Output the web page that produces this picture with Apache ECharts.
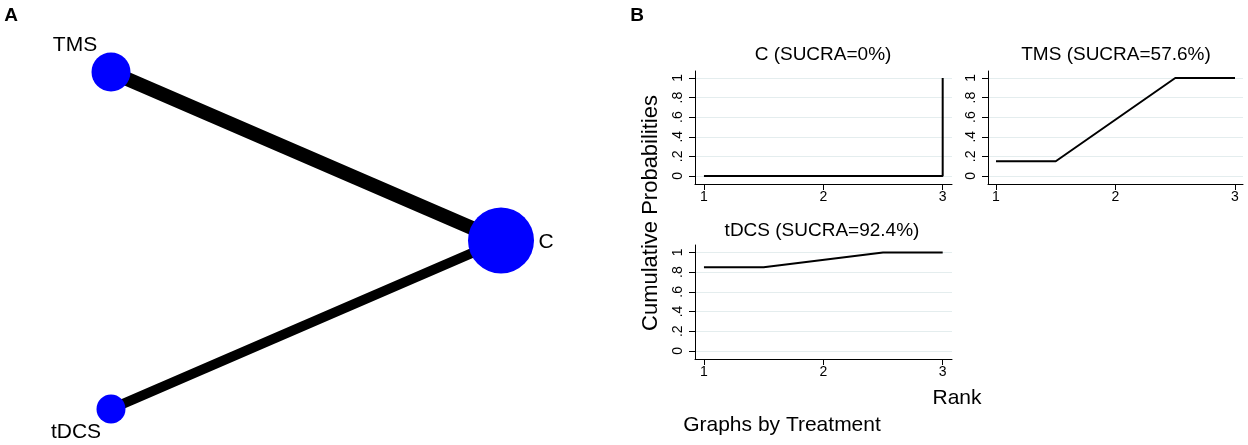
<!DOCTYPE html>
<html>
<head>
<meta charset="utf-8">
<script src="https://cdn.jsdelivr.net/npm/echarts@6/dist/echarts.min.js"></script>
<style>
html,body{margin:0;padding:0;background:#fff;}
#chart{width:1248px;height:445px;}
</style>
</head>
<body>
<div id="chart"></div>
<script>
// ---------- DATA ----------
// Panel A: network of treatments (circular layout coordinates)
const nodeNames = ['C', 'TMS', 'tDCS'];
const nodeX = [1, -0.5, -0.5];
const nodeY = [0, 0.866, -0.866];
const edgeSource = ['TMS', 'tDCS'];
const edgeTarget = ['C', 'C'];

// Panel B: cumulative ranking probabilities
const rankTicks = [1, 2, 3];
const probTicks = [0, 0.2, 0.4, 0.6, 0.8, 1];
const panelTitles = ['C (SUCRA=0%)', 'TMS (SUCRA=57.6%)', 'tDCS (SUCRA=92.4%)'];
const cRank = [1, 3, 3];
const cProb = [0, 0, 1];
const tmsRank = [1, 1.5, 2.5, 3];
const tmsProb = [0.15, 0.15, 1, 1];
const tdcsRank = [1, 1.5, 2.5, 3];
const tdcsProb = [0.85, 0.85, 1, 1];

// ---------- STYLE ----------
const FONT = '"Liberation Sans", Arial, sans-serif';
const nodeStyle = {
  C:    {size: 66, offset: [45, 2]},
  TMS:  {size: 39, offset: [-36, -27]},
  tDCS: {size: 29, offset: [-35, 23]}
};
const edgeWidth = {TMS: 14, tDCS: 10};

const chart = echarts.init(document.getElementById('chart'), null, {renderer: 'canvas'});

function zip(a, b) { return a.map((v, i) => [v, b[i]]); }
function probFmt(v) {
  if (Math.abs(v) < 1e-9) return '0';
  if (Math.abs(v - 1) < 1e-9) return '1';
  return ('' + Math.round(v * 10) / 10).replace(/^0/, '');
}

const gridLineColor = '#e4edee';

function xAx(gridIndex, min, max) {
  return {
    type: 'value', gridIndex, min, max,
    axisLine: {show: true, onZero: false, lineStyle: {color: '#000', width: 1}},
    axisTick: {show: true, length: 6, customValues: rankTicks, lineStyle: {color: '#000'}},
    axisLabel: {show: true, customValues: rankTicks, margin: 6, fontSize: 14, color: '#000', fontFamily: FONT},
    splitLine: {show: false}
  };
}
function yAx(gridIndex, min, max) {
  return {
    type: 'value', gridIndex, min, max,
    axisLine: {show: true, onZero: false, lineStyle: {color: '#000', width: 1}},
    axisTick: {show: true, length: 6, customValues: probTicks, lineStyle: {color: '#000'}},
    axisLabel: {show: true, customValues: probTicks, rotate: 90, margin: 10, fontSize: 14, color: '#000', fontFamily: FONT, formatter: probFmt},
    splitLine: {show: true, lineStyle: {color: gridLineColor, width: 1}}
  };
}
function lineSeries(idx, xs, ys) {
  return {
    type: 'line', xAxisIndex: idx, yAxisIndex: idx,
    data: zip(xs, ys), showSymbol: false, symbol: 'none', animation: false,
    lineStyle: {color: '#000', width: 2}, z: 5
  };
}

const option = {
  animation: false,
  backgroundColor: '#fff',
  grid: [
    {left: 111, top: 72, width: 390, height: 337},
    {left: 695, top: 71, width: 257, height: 113},
    {left: 988, top: 71, width: 255, height: 113},
    {left: 695, top: 245, width: 257, height: 114}
  ],
  xAxis: [
    {type: 'value', gridIndex: 0, min: -0.5, max: 1, show: false},
    xAx(1, 0.925, 3.078),
    xAx(2, 0.933, 3.067),
    xAx(3, 0.925, 3.078)
  ],
  yAxis: [
    {type: 'value', gridIndex: 0, min: -0.866, max: 0.866, show: false},
    yAx(1, -0.082, 1.071),
    yAx(2, -0.082, 1.071),
    yAx(3, -0.082, 1.075)
  ],
  series: [
    {
      type: 'graph', coordinateSystem: 'cartesian2d', xAxisIndex: 0, yAxisIndex: 0,
      layout: 'none', roam: false, animation: false,
      data: nodeNames.map((n, i) => ({
        name: n, value: [nodeX[i], nodeY[i]],
        symbol: 'circle', symbolSize: nodeStyle[n].size,
        itemStyle: {color: '#0000ff'},
        label: {show: true, position: 'inside', offset: nodeStyle[n].offset, formatter: n,
                fontSize: 21, color: '#000', fontFamily: FONT}
      })),
      links: edgeSource.map((s, i) => ({
        source: s, target: edgeTarget[i],
        lineStyle: {width: edgeWidth[s], color: '#000', opacity: 1, curveness: 0}
      })),
      lineStyle: {color: '#000', opacity: 1},
      emphasis: {disabled: true}
    },
    lineSeries(1, cRank, cProb),
    lineSeries(2, tmsRank, tmsProb),
    lineSeries(3, tdcsRank, tdcsProb)
  ],
  graphic: [
    {type: 'text', x: 11, y: 16, style: {text: 'A', font: 'bold 19px ' + FONT, fill: '#000', textAlign: 'center', textVerticalAlign: 'middle'}},
    {type: 'text', x: 637, y: 16, style: {text: 'B', font: 'bold 19px ' + FONT, fill: '#000', textAlign: 'center', textVerticalAlign: 'middle'}},
    {type: 'text', x: 823, y: 55, style: {text: panelTitles[0], font: '19px ' + FONT, fill: '#000', textAlign: 'center', textVerticalAlign: 'middle'}},
    {type: 'text', x: 1116, y: 55, style: {text: panelTitles[1], font: '19px ' + FONT, fill: '#000', textAlign: 'center', textVerticalAlign: 'middle'}},
    {type: 'text', x: 822, y: 231, style: {text: panelTitles[2], font: '19px ' + FONT, fill: '#000', textAlign: 'center', textVerticalAlign: 'middle'}},
    {type: 'text', x: 651, y: 213, rotation: Math.PI / 2, style: {text: 'Cumulative Probabilities', font: '22px ' + FONT, fill: '#000', textAlign: 'center', textVerticalAlign: 'middle'}},
    {type: 'text', x: 957, y: 398, style: {text: 'Rank', font: '21px ' + FONT, fill: '#000', textAlign: 'center', textVerticalAlign: 'middle'}},
    {type: 'text', x: 782, y: 425, style: {text: 'Graphs by Treatment', font: '21px ' + FONT, fill: '#000', textAlign: 'center', textVerticalAlign: 'middle'}}
  ]
};
chart.setOption(option);
</script>
</body>
</html>
